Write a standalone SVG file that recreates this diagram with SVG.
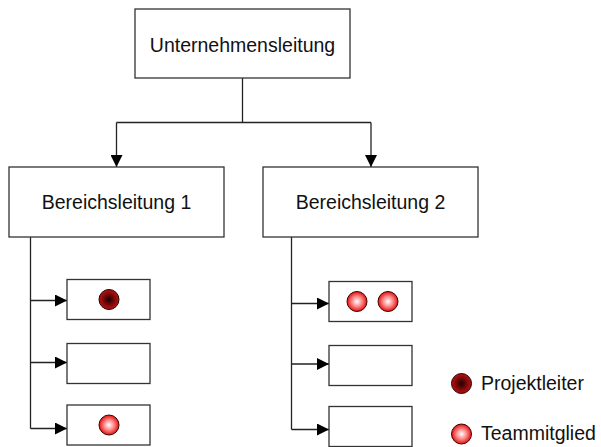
<svg xmlns="http://www.w3.org/2000/svg" width="601" height="447" viewBox="0 0 601 447">
<defs>
<style>
.box{fill:#fff;stroke:#333;stroke-width:1.3}
.ln{fill:none;stroke:#222;stroke-width:1.3}
.t{font-family:"Liberation Sans",Arial,sans-serif;font-size:19.5px;fill:#111}
.pl{fill:url(#gDark);stroke:#200;stroke-width:1}
.tm{fill:url(#gLight);stroke:#400;stroke-width:1}
</style>
<radialGradient id="gDark" cx="0.5" cy="0.5" r="0.5">
<stop offset="0" stop-color="#1a0000"/>
<stop offset="0.55" stop-color="#7a0a0a"/>
<stop offset="1" stop-color="#c01010"/>
</radialGradient>
<radialGradient id="gLight" cx="0.5" cy="0.5" r="0.5">
<stop offset="0" stop-color="#ffffff"/>
<stop offset="0.5" stop-color="#ff8a8a"/>
<stop offset="1" stop-color="#e01010"/>
</radialGradient>
<marker id="arr" viewBox="0 0 12 12" refX="12" refY="6" markerWidth="12" markerHeight="12" markerUnits="userSpaceOnUse" orient="auto">
<path d="M0,0 L12,6 L0,12 z" fill="#000"/>
</marker>
</defs>
<g id="connectors">
<path class="ln" d="M242.5,78 V122.5"/>
<path class="ln" d="M116.5,122.5 H371"/>
<path class="ln" d="M116.5,122.5 V167" marker-end="url(#arr)"/>
<path class="ln" d="M371,122.5 V167" marker-end="url(#arr)"/>
<path class="ln" d="M30.5,237 V428.5"/>
<path class="ln" d="M30.5,300.5 H67" marker-end="url(#arr)"/>
<path class="ln" d="M30.5,362.5 H67" marker-end="url(#arr)"/>
<path class="ln" d="M30.5,428.5 H67" marker-end="url(#arr)"/>
<path class="ln" d="M291.5,237 V429.5"/>
<path class="ln" d="M291.5,303.5 H329" marker-end="url(#arr)"/>
<path class="ln" d="M291.5,364 H329" marker-end="url(#arr)"/>
<path class="ln" d="M291.5,429.5 H329" marker-end="url(#arr)"/>
</g>
<g id="unternehmensleitung">
<rect class="box" x="135" y="9" width="215" height="69"/>
<text class="t" x="242.5" y="52" text-anchor="middle">Unternehmensleitung</text>
</g>
<g id="bereich1">
<rect class="box" x="9" y="167" width="215" height="70"/>
<text class="t" x="116.5" y="209" text-anchor="middle">Bereichsleitung 1</text>
</g>
<g id="bereich2">
<rect class="box" x="263" y="167" width="215" height="70"/>
<text class="t" x="370.5" y="209" text-anchor="middle">Bereichsleitung 2</text>
</g>
<g id="b1team1">
<rect class="box" x="67" y="279.5" width="83" height="40"/>
<circle class="pl" cx="109" cy="299.5" r="10"/>
</g>
<g id="b1team2">
<rect class="box" x="67" y="343.5" width="83" height="40"/>
</g>
<g id="b1team3">
<rect class="box" x="67" y="405" width="83" height="40"/>
<circle class="tm" cx="109" cy="425" r="10"/>
</g>
<g id="b2team1">
<rect class="box" x="329" y="281.5" width="83" height="40"/>
<circle class="tm" cx="357" cy="301.5" r="10"/>
<circle class="tm" cx="388" cy="301.5" r="10"/>
</g>
<g id="b2team2">
<rect class="box" x="329" y="345.5" width="83" height="40"/>
</g>
<g id="b2team3">
<rect class="box" x="329" y="406.5" width="83" height="40"/>
</g>
<g id="legend">
<circle class="pl" cx="461.5" cy="383.5" r="10"/>
<text class="t" x="481" y="390">Projektleiter</text>
<circle class="tm" cx="461.5" cy="434" r="10"/>
<text class="t" x="481" y="440">Teammitglied</text>
</g>
</svg>
